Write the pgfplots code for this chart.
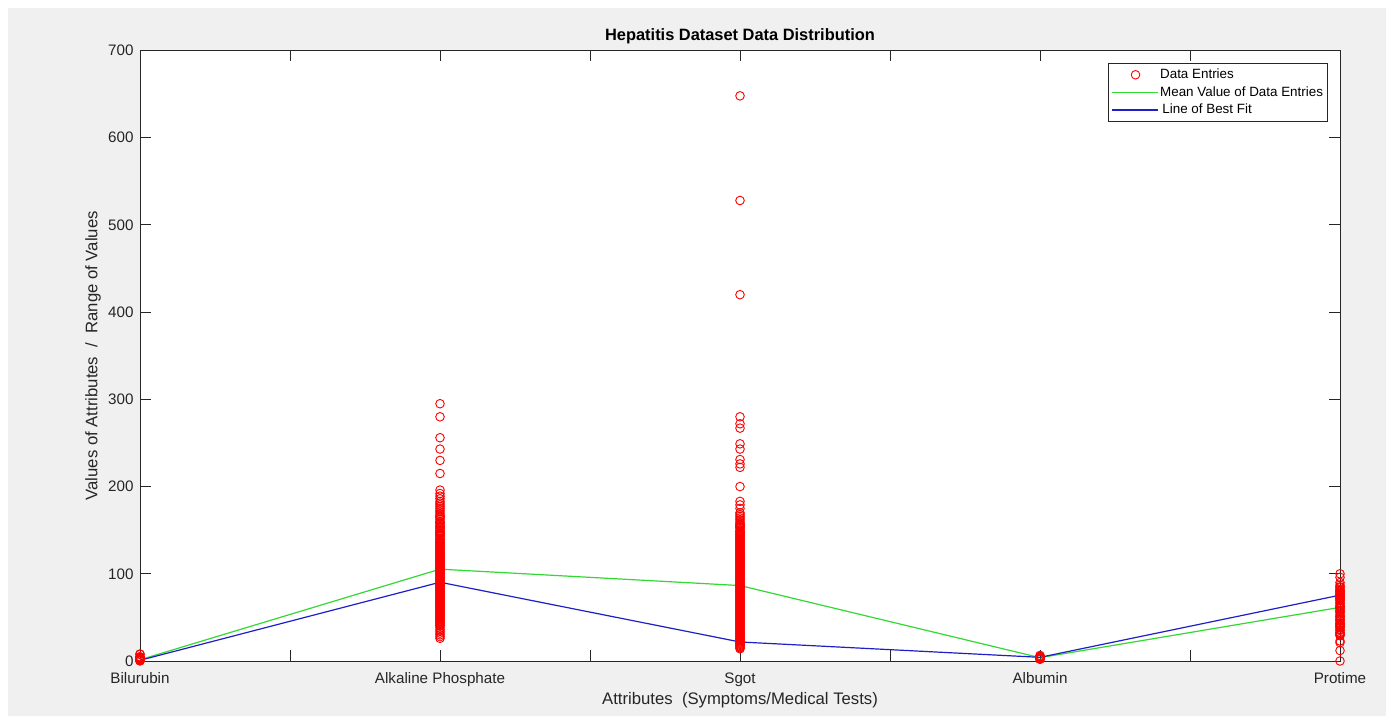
\documentclass[border=0pt]{standalone}
\usepackage{fontspec}
\setmainfont{Liberation Sans}
\usepackage{pgfplots}
\pgfplotsset{compat=1.18}
\definecolor{figbg}{HTML}{F0F0F0}
\definecolor{axcol}{HTML}{262626}
\definecolor{mred}{rgb}{1,0,0}
\definecolor{mgreen}{rgb}{0.2,0.85,0.2}
\definecolor{mblue}{rgb}{0.12,0.12,0.78}
\pgfplotsset{
  linelegend/.style={legend image code/.code={\draw[##1] (0pt,0pt) -- (23pt,0pt);}},
  marklegend/.style={legend image code/.code={\draw[##1] plot coordinates {(12pt,0pt)};}},
  redmarks/.style={only marks, mark=o, mark size=2.15pt, color=mred, mark options={line width=0.45pt}},
}
\begin{document}
\begin{tikzpicture}
\fill[white] (0,0) rectangle (693pt,358pt);
\fill[figbg] (4pt,0) rectangle (693pt,354pt);
\useasboundingbox (0,0) rectangle (693pt,358pt);
\begin{axis}[
  at={(70pt,27.5pt)}, anchor=south west,
  scale only axis, width=600pt, height=305.25pt,
  xmin=1, xmax=5, ymin=0, ymax=700,
  clip=false,
  axis background/.style={fill=white},
  axis line style={axcol, line width=0.45pt},
  tick style={axcol, line width=0.45pt},
  tick align=inside, major tick length=5.5pt,
  xtick={1,1.5,2,2.5,3,3.5,4,4.5,5},
  xticklabels={Bilurubin,,Alkaline Phosphate,,Sgot,,Albumin,,Protime},
  ytick={0,100,200,300,400,500,600,700},
  /pgf/number format/assume math mode=true,
  tick label style={font=\fontsize{7.6pt}{8.5pt}\selectfont, text=axcol},
  xticklabel style={anchor=north, yshift=-2.2pt},
  yticklabel style={anchor=east, xshift=0.3pt},
  title={Hepatitis Dataset Data Distribution},
  every axis title shift=0pt,
  title style={font=\fontsize{8.2pt}{9pt}\selectfont\bfseries, text=black, at={(axis description cs:0.5,1.0238)}, anchor=center, yshift=0pt},
  xlabel={Attributes\ \ (Symptoms/Medical Tests)},
  ylabel={Values of Attributes\ \ /\ \ Range of Values},
  every axis x label/.style={at={(axis description cs:0.5,-0.064)}, anchor=center, font=\fontsize{8.35pt}{9.5pt}\selectfont, text=axcol},
  every axis y label/.style={at={(axis description cs:-0.0392,0.5)}, anchor=center, rotate=90, font=\fontsize{8.35pt}{9.5pt}\selectfont, text=axcol},
  legend style={at={(axis description cs:1,1)}, anchor=north east, xshift=-6pt, yshift=-6.25pt,
    draw=axcol, line width=0.4pt, fill=white, inner sep=1.3pt,
    font=\fontsize{6.7pt}{7.5pt}\selectfont, text=black,
    nodes={inner sep=1pt, text height=5.3pt, text depth=1.5pt}, row sep=0pt},
  legend cell align=left,
]
% Bilurubin
\addplot[redmarks, marklegend]
coordinates {(1,0.3)(1,0.4)(1,0.5)(1,0.6)(1,0.7)(1,0.8)(1,0.9)(1,1.0)(1,1.1)(1,1.2)(1,1.3)(1,1.4)(1,1.5)(1,1.6)(1,1.7)(1,1.8)(1,1.9)(1,2.0)(1,2.2)(1,2.3)(1,2.5)(1,2.8)(1,3.0)(1,3.2)(1,3.5)(1,3.9)(1,4.1)(1,4.6)(1,4.8)(1,7.6)(1,8.0)};
\addlegendentry{Data Entries}
% Alkaline Phosphate
\addplot[redmarks, forget plot]
coordinates {(2,295)(2,280)(2,256)(2,243)(2,230)(2,215)(2,196)(2,192)(2,189)(2,186)(2,183)(2,181)(2,179)(2,177)(2,175)(2,173)(2,171)(2,169)(2,167)(2,166)(2,165)(2,164)(2,162)(2,160)(2,159)(2,158)(2,157)(2,155)(2,154)(2,153)(2,152)(2,150)(2,149)(2,148)(2,147)(2,146)(2,145)(2,144)(2,143)(2,141)(2,140)(2,139)(2,138)(2,137)(2,136)(2,135)(2,134)(2,133)(2,132)(2,131)(2,130)(2,129)(2,128)(2,127)(2,126)(2,125)(2,124)(2,123)(2,122)(2,121)(2,120)(2,119)(2,118)(2,117)(2,116)(2,115)(2,114)(2,113)(2,112)(2,111)(2,110)(2,109)(2,108)(2,107)(2,106)(2,105)(2,104)(2,103)(2,102)(2,101)(2,100)(2,99)(2,98)(2,97)(2,96)(2,95)(2,94)(2,93)(2,92)(2,91)(2,90)(2,89)(2,88)(2,87)(2,86)(2,85)(2,84)(2,83)(2,82)(2,81)(2,80)(2,79)(2,78)(2,77)(2,76)(2,75)(2,74)(2,73)(2,72)(2,71)(2,70)(2,69)(2,68)(2,67)(2,66)(2,65)(2,64)(2,63)(2,62)(2,61)(2,60)(2,59)(2,58)(2,57)(2,56)(2,55)(2,54)(2,53)(2,52)(2,51)(2,50)(2,49)(2,48)(2,47)(2,46)(2,45)(2,44)(2,43)(2,42)(2,41)(2,40)(2,38)(2,36)(2,34)(2,32)(2,30)(2,28)(2,26)};
% Sgot
\addplot[redmarks, forget plot]
coordinates {(3,648)(3,528)(3,420)(3,280)(3,272)(3,267)(3,249)(3,243)(3,231)(3,226)(3,222)(3,200)(3,183)(3,179)(3,175)(3,170)(3,168)(3,166)(3,164)(3,162)(3,160)(3,158)(3,157)(3,156)(3,155)(3,154)(3,153)(3,152)(3,150)(3,149)(3,148)(3,147)(3,146)(3,145)(3,144)(3,143)(3,142)(3,141)(3,140)(3,139)(3,138)(3,137)(3,136)(3,135)(3,134)(3,133)(3,132)(3,131)(3,130)(3,129)(3,128)(3,127)(3,126)(3,125)(3,124)(3,123)(3,122)(3,121)(3,120)(3,119)(3,118)(3,117)(3,116)(3,115)(3,114)(3,113)(3,112)(3,111)(3,110)(3,109)(3,108)(3,107)(3,106)(3,105)(3,104)(3,103)(3,102)(3,101)(3,100)(3,99)(3,98)(3,97)(3,96)(3,95)(3,94)(3,93)(3,92)(3,91)(3,90)(3,89)(3,88)(3,87)(3,86)(3,85)(3,84)(3,83)(3,82)(3,81)(3,80)(3,79)(3,78)(3,77)(3,76)(3,75)(3,74)(3,73)(3,72)(3,71)(3,70)(3,69)(3,68)(3,67)(3,66)(3,65)(3,64)(3,63)(3,62)(3,61)(3,60)(3,59)(3,58)(3,57)(3,56)(3,55)(3,54)(3,53)(3,52)(3,51)(3,50)(3,49)(3,48)(3,47)(3,46)(3,45)(3,44)(3,43)(3,42)(3,41)(3,40)(3,39)(3,38)(3,37)(3,36)(3,35)(3,34)(3,33)(3,32)(3,31)(3,30)(3,29)(3,28)(3,27)(3,26)(3,25)(3,24)(3,23)(3,22)(3,21)(3,20)(3,19)(3,18)(3,17)(3,16)(3,15)(3,14)};
% Albumin
\addplot[redmarks, forget plot]
coordinates {(4,2.1)(4,2.2)(4,2.4)(4,2.6)(4,2.7)(4,2.9)(4,3.0)(4,3.1)(4,3.3)(4,3.4)(4,3.5)(4,3.6)(4,3.7)(4,3.8)(4,3.9)(4,4.0)(4,4.1)(4,4.2)(4,4.3)(4,4.4)(4,4.5)(4,4.6)(4,4.7)(4,4.9)(4,5.0)(4,5.3)(4,6.4)};
% Protime
\addplot[redmarks, forget plot]
coordinates {(5,100)(5,96)(5,90)(5,87)(5,85)(5,84)(5,82)(5,81)(5,80)(5,79)(5,78)(5,77)(5,76)(5,75)(5,74)(5,73)(5,72)(5,71)(5,70)(5,69)(5,67)(5,66)(5,64)(5,63)(5,62)(5,61)(5,60)(5,58)(5,57)(5,56)(5,54)(5,52)(5,51)(5,50)(5,48)(5,47)(5,46)(5,44)(5,43)(5,42)(5,41)(5,40)(5,39)(5,38)(5,36)(5,35)(5,33)(5,32)(5,31)(5,30)(5,29)(5,23)(5,21)(5,12)(5,0)};
% mean line
\addplot[color=mgreen, line width=0.6pt, mark=none, linelegend]
coordinates {(1,1.43)(2,105.3)(3,86.5)(4,3.8)(5,61.5)};
\addlegendentry{Mean Value of Data Entries}
% best fit
\addplot[color=mblue, line width=0.6pt, mark=none, linelegend]
coordinates {(1,0.8)(2,90.3)(3,21.8)(4,4.2)(5,75.5)};
\addlegendentry{\,Line of Best Fit}
\end{axis}
\end{tikzpicture}
\end{document}
